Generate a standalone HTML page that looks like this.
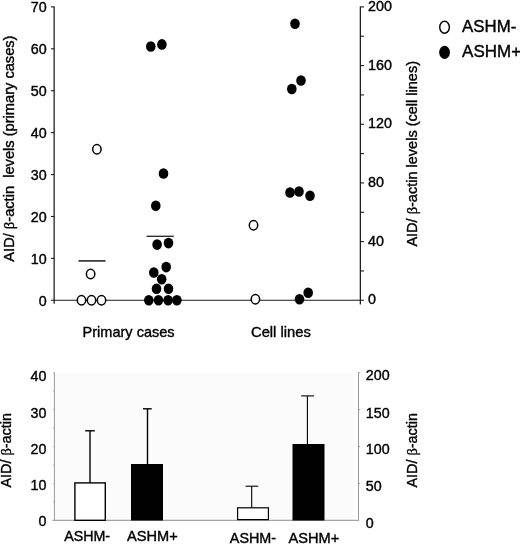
<!DOCTYPE html>
<html><head><meta charset="utf-8"><title>Figure</title>
<style>html,body{margin:0;padding:0;background:#fff;}svg{display:block;will-change:transform;opacity:0.999;}text{font-family:"Liberation Sans",sans-serif;fill:#000;stroke:#000;stroke-width:0.38px;}.b{font-family:"Liberation Serif",serif;}</style></head>
<body>
<svg width="520" height="544" viewBox="0 0 520 544">
<rect x="0" y="0" width="520" height="544" fill="#ffffff"/>
<g stroke="#1a1a1a" stroke-width="1.1" fill="none">
<line x1="54.15" y1="6.4" x2="54.15" y2="303.8" stroke-width="1.25"/>
<line x1="51" y1="300.3" x2="364" y2="300.3"/>
<line x1="360.35" y1="6.4" x2="360.35" y2="304.6" stroke-width="1.25"/>
<line x1="51" y1="6.90" x2="54.2" y2="6.90"/>
<line x1="51" y1="48.81" x2="54.2" y2="48.81"/>
<line x1="51" y1="90.73" x2="54.2" y2="90.73"/>
<line x1="51" y1="132.64" x2="54.2" y2="132.64"/>
<line x1="51" y1="174.56" x2="54.2" y2="174.56"/>
<line x1="51" y1="216.47" x2="54.2" y2="216.47"/>
<line x1="51" y1="258.39" x2="54.2" y2="258.39"/>
<line x1="360.35" y1="6.90" x2="364" y2="6.90"/>
<line x1="360.35" y1="36.24" x2="364" y2="36.24"/>
<line x1="360.35" y1="65.58" x2="364" y2="65.58"/>
<line x1="360.35" y1="94.92" x2="364" y2="94.92"/>
<line x1="360.35" y1="124.26" x2="364" y2="124.26"/>
<line x1="360.35" y1="153.60" x2="364" y2="153.60"/>
<line x1="360.35" y1="182.94" x2="364" y2="182.94"/>
<line x1="360.35" y1="212.28" x2="364" y2="212.28"/>
<line x1="360.35" y1="241.62" x2="364" y2="241.62"/>
<line x1="360.35" y1="270.96" x2="364" y2="270.96"/>
</g>
<g font-size="14.3" text-anchor="end">
<text x="46.6" y="11.75">70</text>
<text x="46.6" y="54.16">60</text>
<text x="46.6" y="96.28">50</text>
<text x="46.6" y="138.39">40</text>
<text x="46.6" y="180.41">30</text>
<text x="46.6" y="222.32">20</text>
<text x="46.6" y="264.04">10</text>
<text x="46.6" y="305.95">0</text>
</g>
<g font-size="14.3" text-anchor="start">
<text x="368" y="10.90">200</text>
<text x="368" y="69.58">160</text>
<text x="368" y="128.26">120</text>
<text x="368" y="186.94">80</text>
<text x="368" y="245.62">40</text>
<text x="368" y="304.30">0</text>
</g>
<text font-size="15.1" transform="translate(13.7,261.7) rotate(-90)" textLength="226.2" lengthAdjust="spacingAndGlyphs">AID/ <tspan class="b">β</tspan>-actin&#160; levels (primary cases)</text>
<text font-size="15.1" transform="translate(417.4,246.6) rotate(-90)" textLength="185.6" lengthAdjust="spacingAndGlyphs">AID/ <tspan class="b">β</tspan>-actin levels (cell lines)</text>
<text font-size="14.4" x="82.6" y="336.8" textLength="92" lengthAdjust="spacingAndGlyphs">Primary cases</text>
<text font-size="14.4" x="251" y="336.8" textLength="59.8" lengthAdjust="spacingAndGlyphs">Cell lines</text>
<g stroke="#1a1a1a" stroke-width="1.3">
<line x1="78.5" y1="260.9" x2="105.5" y2="260.9" stroke="#333" stroke-width="1.7"/>
<line x1="146.5" y1="236.3" x2="173.8" y2="236.3" stroke="#222" stroke-width="1.3"/>
</g>
<g fill="#fff" stroke="#000" stroke-width="1.5">
<ellipse cx="96.9" cy="149.2" rx="4.2" ry="4.7"/>
<ellipse cx="90.6" cy="274.0" rx="4.2" ry="4.7"/>
<ellipse cx="81.5" cy="300.3" rx="4.2" ry="4.7"/>
<ellipse cx="91.5" cy="300.3" rx="4.2" ry="4.7"/>
<ellipse cx="101.5" cy="300.3" rx="4.2" ry="4.7"/>
<ellipse cx="253.5" cy="225.2" rx="4.2" ry="4.7"/>
<ellipse cx="255.4" cy="299.3" rx="4.2" ry="4.7"/>
</g>
<g fill="#000">
<ellipse cx="150.8" cy="46.5" rx="4.8" ry="5.3"/>
<ellipse cx="161.9" cy="44.4" rx="4.8" ry="5.3"/>
<ellipse cx="163.5" cy="173.5" rx="4.8" ry="5.3"/>
<ellipse cx="155.8" cy="205.8" rx="4.8" ry="5.3"/>
<ellipse cx="157.1" cy="244.6" rx="4.8" ry="5.3"/>
<ellipse cx="168.5" cy="243.1" rx="4.8" ry="5.3"/>
<ellipse cx="166.2" cy="267.1" rx="4.8" ry="5.3"/>
<ellipse cx="153.8" cy="272.5" rx="4.8" ry="5.3"/>
<ellipse cx="161.7" cy="279.2" rx="4.8" ry="5.3"/>
<ellipse cx="156.5" cy="288.7" rx="4.8" ry="5.3"/>
<ellipse cx="168.5" cy="288.8" rx="4.8" ry="5.3"/>
<ellipse cx="148.8" cy="300.2" rx="4.8" ry="5.3"/>
<ellipse cx="158.5" cy="300.2" rx="4.8" ry="5.3"/>
<ellipse cx="168.1" cy="300.2" rx="4.8" ry="5.3"/>
<ellipse cx="176.9" cy="300.2" rx="4.8" ry="5.3"/>
<ellipse cx="295.0" cy="23.8" rx="4.8" ry="5.3"/>
<ellipse cx="301.0" cy="80.5" rx="4.8" ry="5.3"/>
<ellipse cx="291.8" cy="89.0" rx="4.8" ry="5.3"/>
<ellipse cx="290.0" cy="192.5" rx="4.8" ry="5.3"/>
<ellipse cx="299.0" cy="191.5" rx="4.8" ry="5.3"/>
<ellipse cx="310.0" cy="195.8" rx="4.8" ry="5.3"/>
<ellipse cx="299.5" cy="299.2" rx="4.8" ry="5.3"/>
<ellipse cx="308.2" cy="292.8" rx="4.8" ry="5.3"/>
</g>
<ellipse cx="444.55" cy="27.3" rx="4.8" ry="6.0" fill="#fff" stroke="#000" stroke-width="1.4"/>
<ellipse cx="444.55" cy="52.45" rx="5.4" ry="6.6" fill="#000"/>
<text font-size="16.5" stroke-width="0.5" x="462.1" y="32.0" textLength="54.2" lengthAdjust="spacingAndGlyphs">ASHM-</text>
<text font-size="16.5" stroke-width="0.5" x="462.1" y="57.2" textLength="59" lengthAdjust="spacingAndGlyphs">ASHM+</text>
<rect x="55" y="373.0" width="299" height="147.4" fill="#fbfbfb"/>
<g stroke="#999999" stroke-width="1" fill="none">
<line x1="54.4" y1="372.4" x2="54.4" y2="520.9"/>
<line x1="358.5" y1="372.4" x2="358.5" y2="520.9"/>
<line x1="52.5" y1="520.4" x2="358.5" y2="520.4" stroke="#a4a4a4" stroke-width="1.2"/>
<line x1="53.2" y1="372.70" x2="54.4" y2="372.70" stroke-width="0.8"/>
<line x1="53.2" y1="391.16" x2="54.4" y2="391.16" stroke-width="0.8"/>
<line x1="53.2" y1="409.62" x2="54.4" y2="409.62" stroke-width="0.8"/>
<line x1="53.2" y1="428.09" x2="54.4" y2="428.09" stroke-width="0.8"/>
<line x1="53.2" y1="446.55" x2="54.4" y2="446.55" stroke-width="0.8"/>
<line x1="53.2" y1="465.01" x2="54.4" y2="465.01" stroke-width="0.8"/>
<line x1="53.2" y1="483.47" x2="54.4" y2="483.47" stroke-width="0.8"/>
<line x1="53.2" y1="501.94" x2="54.4" y2="501.94" stroke-width="0.8"/>
<line x1="358.5" y1="372.70" x2="360.2" y2="372.70"/>
<line x1="358.5" y1="409.62" x2="360.2" y2="409.62"/>
<line x1="358.5" y1="446.55" x2="360.2" y2="446.55"/>
<line x1="358.5" y1="483.47" x2="360.2" y2="483.47"/>
</g>
<g font-size="14.3" text-anchor="end">
<text x="46.4" y="381.40">40</text>
<text x="46.4" y="417.50">30</text>
<text x="46.4" y="453.60">20</text>
<text x="46.4" y="489.70">10</text>
<text x="46.4" y="525.80">0</text>
</g>
<g font-size="14.3" text-anchor="start">
<text x="365.8" y="380.40">200</text>
<text x="365.8" y="417.60">150</text>
<text x="365.8" y="454.10">100</text>
<text x="365.8" y="491.10">50</text>
<text x="365.8" y="527.70">0</text>
</g>
<text font-size="15.1" transform="translate(11.4,487.5) rotate(-90)" textLength="74.5" lengthAdjust="spacingAndGlyphs">AID/ <tspan class="b">β</tspan>-actin</text>
<text font-size="14.7" transform="translate(417,487.5) rotate(-90)" textLength="74.5" lengthAdjust="spacingAndGlyphs">AID/ <tspan class="b">β</tspan>-actin</text>
<g stroke="#000" stroke-width="1.4">
<line x1="90" y1="430.8" x2="90" y2="483"/><line x1="85.2" y1="430.8" x2="94.8" y2="430.8"/>
<line x1="147.5" y1="408.8" x2="147.5" y2="465"/><line x1="143" y1="408.8" x2="151.7" y2="408.8"/>
</g>
<g stroke="#000" stroke-width="1.1">
<line x1="251.7" y1="486.2" x2="251.7" y2="508"/><line x1="245.6" y1="486.2" x2="258.3" y2="486.2"/>
<line x1="307.4" y1="395.9" x2="307.4" y2="445"/><line x1="301.2" y1="395.9" x2="314.1" y2="395.9"/>
</g>
<rect x="74.9" y="482.9" width="30.4" height="37.4" fill="#fff" stroke="#000" stroke-width="1.4"/>
<rect x="131" y="464" width="32" height="56.5" fill="#000"/>
<rect x="237.6" y="507.8" width="30.8" height="11.8" fill="#fff" stroke="#000" stroke-width="1.2"/>
<rect x="292.5" y="444" width="32" height="76.5" fill="#000"/>
<text font-size="14.1" x="64.2" y="541.2" textLength="45.9" lengthAdjust="spacingAndGlyphs">ASHM-</text>
<text font-size="14.1" x="127" y="541.2" textLength="50.7" lengthAdjust="spacingAndGlyphs">ASHM+</text>
<text font-size="14.1" x="229.8" y="543.4" textLength="46.3" lengthAdjust="spacingAndGlyphs">ASHM-</text>
<text font-size="14.1" x="288.5" y="543.4" textLength="50.8" lengthAdjust="spacingAndGlyphs">ASHM+</text>
</svg>
</body></html>
